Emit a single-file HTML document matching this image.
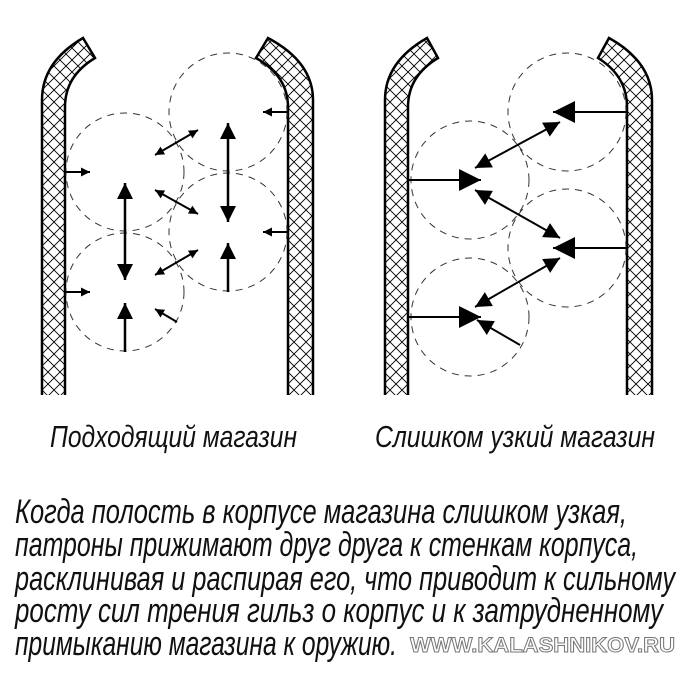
<!DOCTYPE html>
<html><head><meta charset="utf-8"><style>
html,body{margin:0;padding:0;background:#fff;}
svg{display:block}
</style></head><body>
<svg width="700" height="675" viewBox="0 0 700 675" xmlns="http://www.w3.org/2000/svg">
<defs>
<pattern id="h" width="12" height="12" patternUnits="userSpaceOnUse">
<path d="M0 0L12 12M12 0L0 12" stroke="#000" stroke-width="0.9"/>
</pattern>
<marker id="a" viewBox="0 0 10 10" refX="10" refY="5" markerWidth="6.5" markerHeight="4.5" orient="auto-start-reverse" markerUnits="strokeWidth">
<path d="M0 0L10 5L0 10z" fill="#000"/></marker>
<marker id="b" viewBox="0 0 10 10" refX="10" refY="5" markerWidth="6" markerHeight="4.5" orient="auto-start-reverse" markerUnits="strokeWidth">
<path d="M0 0L10 5L0 10z" fill="#000"/></marker>
<marker id="v" viewBox="0 0 10 10" refX="10" refY="5" markerWidth="10" markerHeight="6.4" orient="auto-start-reverse" markerUnits="strokeWidth">
<path d="M0 0L10 5L0 10z" fill="#000"/></marker>
<marker id="L" viewBox="0 0 10 10" refX="10" refY="5" markerWidth="18" markerHeight="11" orient="auto-start-reverse" markerUnits="strokeWidth">
<path d="M0 0L10 5L0 10z" fill="#000"/></marker>
<marker id="M" viewBox="0 0 10 10" refX="10" refY="5" markerWidth="12.5" markerHeight="8" orient="auto-start-reverse" markerUnits="strokeWidth">
<path d="M0 0L10 5L0 10z" fill="#000"/></marker>
</defs>
<g fill="url(#h)" stroke="#000" stroke-width="2.5" stroke-linejoin="miter">
<path d="M42 395L42 100Q42 62 83 38L95 58Q65 76 65 107L65 395"/>
<path d="M313 395L313 100Q313 62 268 38L256 58Q288 76 288 107L288 395"/>
<path d="M385 395L385 100Q385 62 427 38L438 58Q408 76 408 107L408 395"/>
<path d="M652 395L652 100Q652 62 609 38L598 58Q627 76 627 107L627 395"/>
</g>
<g fill="none" stroke="#333" stroke-width="1" stroke-dasharray="7 6">
<circle cx="125" cy="172" r="59"/><circle cx="125" cy="292" r="59"/>
<circle cx="228" cy="112" r="59"/><circle cx="228" cy="232" r="59"/>
<circle cx="567" cy="112" r="59"/><circle cx="470" cy="180" r="59"/>
<circle cx="567" cy="248" r="59"/><circle cx="470" cy="317" r="59"/>
</g>
<g stroke="#000" stroke-width="2" fill="none">
<line x1="65" y1="172" x2="90" y2="172" marker-end="url(#b)"/>
<line x1="65" y1="292" x2="90" y2="292" marker-end="url(#b)"/>
<line x1="288" y1="112" x2="263" y2="112" marker-end="url(#b)"/>
<line x1="288" y1="232" x2="263" y2="232" marker-end="url(#b)"/>
<g stroke-width="2.5">
<line x1="125" y1="183" x2="125" y2="280" marker-start="url(#v)" marker-end="url(#v)"/>
<line x1="125" y1="352" x2="125" y2="303" marker-end="url(#v)"/>
<line x1="228" y1="123" x2="228" y2="222" marker-start="url(#v)" marker-end="url(#v)"/>
<line x1="228" y1="292" x2="228" y2="243" marker-end="url(#v)"/>
</g>
<line x1="155" y1="155" x2="198" y2="130" marker-start="url(#a)" marker-end="url(#a)"/>
<line x1="155" y1="190" x2="198" y2="214" marker-start="url(#a)" marker-end="url(#a)"/>
<line x1="155" y1="275" x2="198" y2="250" marker-start="url(#a)" marker-end="url(#a)"/>
<line x1="177" y1="322" x2="155" y2="309" marker-end="url(#a)"/>
<line x1="408" y1="180" x2="481" y2="180" marker-end="url(#L)"/>
<line x1="408" y1="317" x2="481" y2="317" marker-end="url(#L)"/>
<line x1="627" y1="112" x2="553" y2="112" marker-end="url(#L)"/>
<line x1="627" y1="248" x2="553" y2="248" marker-end="url(#L)"/>
<line x1="475" y1="168" x2="560" y2="122" marker-start="url(#M)" marker-end="url(#M)"/>
<line x1="475" y1="190" x2="560" y2="238" marker-start="url(#M)" marker-end="url(#M)"/>
<line x1="475" y1="307" x2="560" y2="258" marker-start="url(#M)" marker-end="url(#M)"/>
<line x1="520" y1="345" x2="477" y2="320" marker-end="url(#M)"/>
</g>
<g font-family="'Liberation Sans Narrow','Liberation Sans',sans-serif" font-style="italic" fill="#111">
<text x="50" y="447" font-size="31" textLength="247" lengthAdjust="spacingAndGlyphs">Подходящий магазин</text>
<text x="375" y="447" font-size="31" textLength="280" lengthAdjust="spacingAndGlyphs">Слишком узкий магазин</text>
<text x="15" y="523" font-size="34" textLength="612" lengthAdjust="spacingAndGlyphs">Когда полость в корпусе магазина слишком узкая,</text>
<text x="15" y="556" font-size="34" textLength="623" lengthAdjust="spacingAndGlyphs">патроны прижимают друг друга к стенкам корпуса,</text>
<text x="15" y="590" font-size="34" textLength="660" lengthAdjust="spacingAndGlyphs">расклинивая и распирая его, что приводит к сильному</text>
<text x="15" y="622" font-size="34" textLength="648" lengthAdjust="spacingAndGlyphs">росту сил трения гильз о корпус и к затрудненному</text>
<text x="15" y="655" font-size="34" textLength="382" lengthAdjust="spacingAndGlyphs">примыканию магазина к оружию.</text>
</g>
<text x="410" y="652" font-family="'Liberation Sans',sans-serif" font-weight="bold" font-size="21" fill="#fff" stroke="#777" stroke-width="1" textLength="265" lengthAdjust="spacingAndGlyphs">WWW.KALASHNIKOV.RU</text>
</svg>
</body></html>
